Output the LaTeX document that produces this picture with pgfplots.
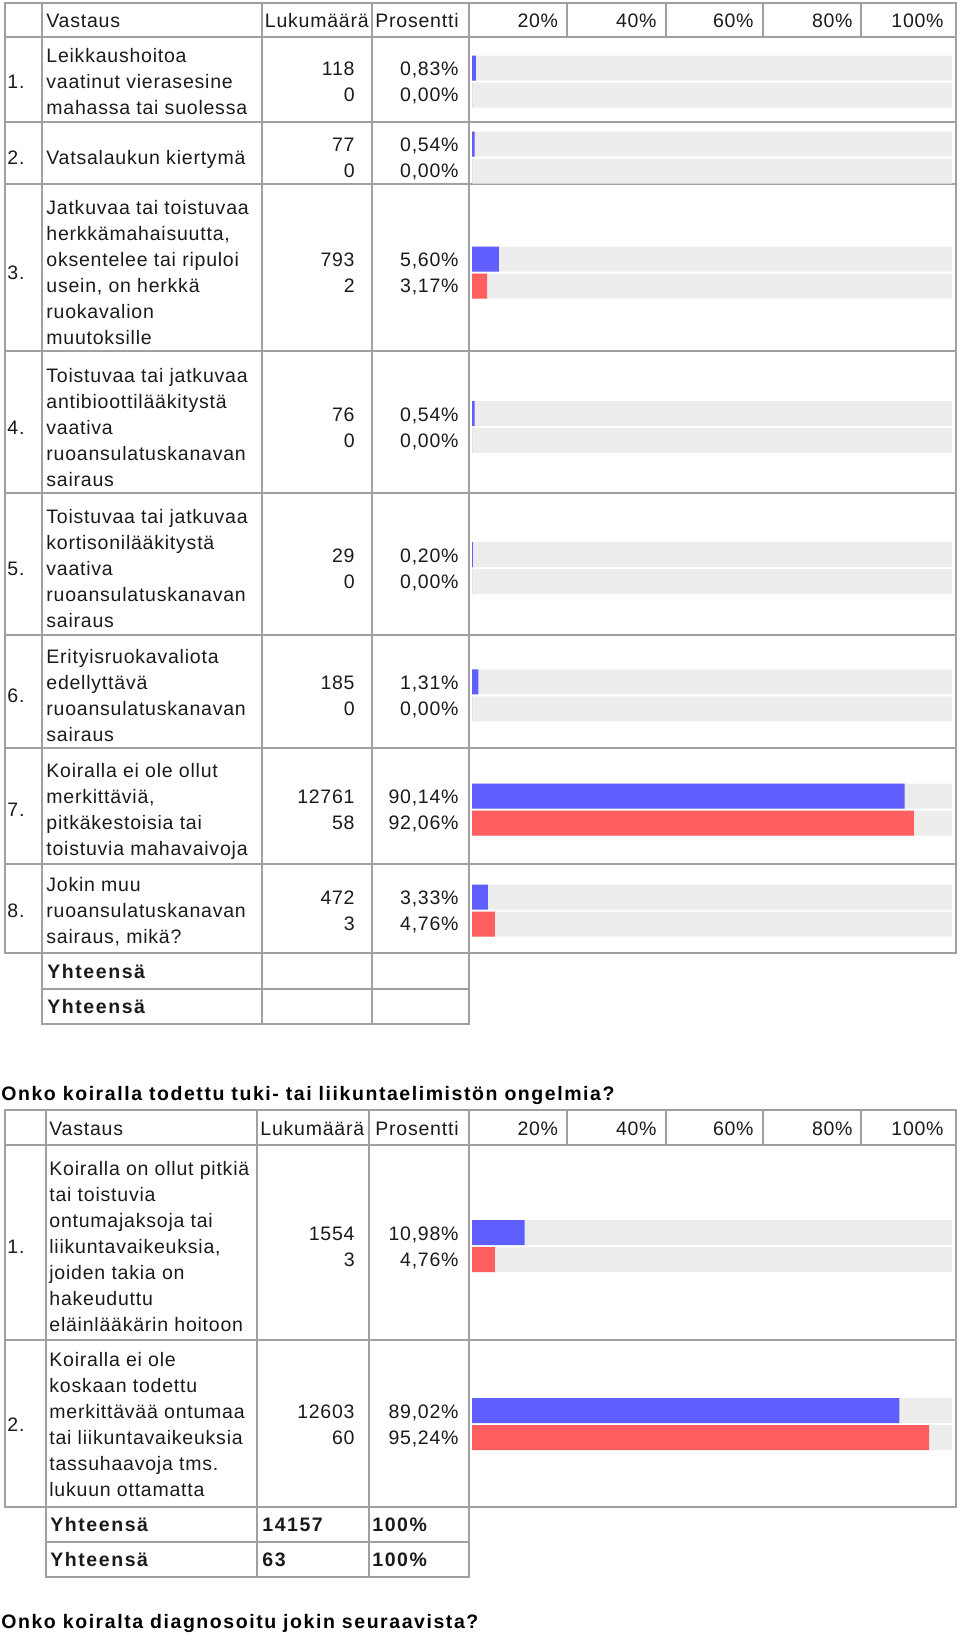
\documentclass[border=0pt]{standalone}
\usepackage{fontspec}
\setmainfont{Liberation Sans}[LetterSpace=4]
\newfontfamily\titlefont{Liberation Sans}[LetterSpace=8]
\usepackage{pgfplots}
\usepackage{pgfplotstable}
\pgfplotsset{compat=1.18}

\definecolor{barblue}{HTML}{5F5FFF}
\definecolor{barred}{HTML}{FF5F5F}
\definecolor{bargray}{HTML}{EDEDED}
\definecolor{rulec}{HTML}{A0A0A0}
\definecolor{txt}{HTML}{1A1A1A}

% first question: bar centre (px from top) and share in percent
\pgfplotstableread{
ypos pct bg
68.2 0.83 100
144.2 0.54 100
259.0 5.60 100
413.5 0.54 100
554.5 0.20 100
681.8 1.31 100
796.0 90.14 100
897.0 3.33 100
}\tabAblue
\pgfplotstableread{
ypos pct bg
95.2 0.00 100
171.2 0.00 100
286.0 3.17 100
440.5 0.00 100
581.5 0.00 100
708.8 0.00 100
823.0 92.06 100
924.0 4.76 100
}\tabAred
% second question
\pgfplotstableread{
ypos pct bg
1232.5 10.98 100
1410.5 89.02 100
}\tabBblue
\pgfplotstableread{
ypos pct bg
1259.5 4.76 100
1437.5 95.24 100
}\tabBred

\newcommand{\nf}{\fontsize{9.75pt}{13pt}\selectfont}
\newcommand{\bff}{\titlefont\bfseries\fontsize{9.75pt}{13pt}\selectfont}
% x, centre, number of lines, lines
\newcommand{\txtrows}[4]{%
  \foreach \t [count=\i] in {#4} {
    \node[anchor=base west, inner sep=0, font=\nf, text=txt]
      at ({#1}, {#2 + 7 + (\i - 1 - (#3 - 1)/2)*26}) {\t};
  }}
% centre, count1, pct1, count2, pct2
\newcommand{\vals}[5]{%
  \node[anchor=base east, inner sep=0, font=\nf, text=txt] at (355, {#1 - 13 + 7}) {#2};
  \node[anchor=base east, inner sep=0, font=\nf, text=txt] at (459, {#1 - 13 + 7}) {#3};
  \node[anchor=base east, inner sep=0, font=\nf, text=txt] at (355, {#1 + 13 + 7}) {#4};
  \node[anchor=base east, inner sep=0, font=\nf, text=txt] at (459, {#1 + 13 + 7}) {#5};
}
\newcommand{\num}[2]{\node[anchor=base west, inner sep=0, font=\nf, text=txt] at (7, {#1 + 7}) {#2};}
% header row at centre y
\newcommand{\header}[3]{%
  \node[anchor=base west, inner sep=0, font=\nf, text=txt] at (#2, {#1 + 7}) {Vastaus};
  \node[anchor=base west, inner sep=0, font=\nf, text=txt] at (#3, {#1 + 7}) {Lukumäärä};
  \node[anchor=base east, inner sep=0, font=\nf, text=txt] at (459, {#1 + 7}) {Prosentti};
  \foreach \xx/\ll in {558.5/20, 657/40, 754/60, 853/80, 944/100}
    \node[anchor=base east, inner sep=0, font=\nf, text=txt] at (\xx, {#1 + 7}) {\ll\%};
}
\pgfplotsset{
  barpanel/.style={
    anchor=north west, scale only axis, width=240pt,
    xmin=0, xmax=100, y dir=reverse,
    hide axis, clip=false,
  },
  bg/.style={xbar, bar shift=0pt, bar width=12.5pt, fill=bargray, draw=none},
  fg/.style={xbar, bar shift=0pt, bar width=12.5pt, fill=#1, draw=none},
}

\begin{document}
\begin{tikzpicture}
\begin{scope}[x=0.5pt, y=-0.5pt]
\useasboundingbox (0,0) rectangle (960,1633);

% ---------- table 1 grid
\begin{scope}[draw=rulec, line width=1pt]
\draw (5,3) rectangle (956,952.5);
\foreach \xx in {42, 262, 372, 469} \draw (\xx,3) -- (\xx,952.5);
\foreach \xx in {567, 666, 763, 861} \draw (\xx,3) -- (\xx,37);
\foreach \yy in {37, 122, 184, 351, 492.5, 635, 747.6, 864} \draw (5,\yy) -- (956,\yy);
\draw (42,952.5) rectangle (469,1023.5);
\draw (42,989) -- (469,989);
\foreach \xx in {262, 372} \draw (\xx,952.5) -- (\xx,1023.5);
\end{scope}

\header{20}{46}{264.5}

\num{81.7}{1.}
\txtrows{46}{81.7}{3}{Leikkaushoitoa, vaatinut vierasesine, mahassa tai suolessa}
\vals{81.7}{118}{0,83\%}{0}{0,00\%}

\num{157.7}{2.}
\txtrows{46}{157.7}{1}{Vatsalaukun kiertymä}
\vals{157.7}{77}{0,54\%}{0}{0,00\%}

\num{272}{3.}
\txtrows{46}{272}{6}{Jatkuvaa tai toistuvaa, {herkkämahaisuutta,}, oksentelee tai ripuloi, {usein, on herkkä}, ruokavalion, muutoksille}
\vals{272}{793}{5,60\%}{2}{3,17\%}

\num{427}{4.}
\txtrows{46}{427}{5}{Toistuvaa tai jatkuvaa, antibioottilääkitystä, vaativa, ruoansulatuskanavan, sairaus}
\vals{427}{76}{0,54\%}{0}{0,00\%}

\num{568}{5.}
\txtrows{46}{568}{5}{Toistuvaa tai jatkuvaa, kortisonilääkitystä, vaativa, ruoansulatuskanavan, sairaus}
\vals{568}{29}{0,20\%}{0}{0,00\%}

\num{695.3}{6.}
\txtrows{46}{695.3}{4}{Erityisruokavaliota, edellyttävä, ruoansulatuskanavan, sairaus}
\vals{695.3}{185}{1,31\%}{0}{0,00\%}

\num{809.5}{7.}
\txtrows{46}{809.5}{4}{Koiralla ei ole ollut, {merkittäviä,}, pitkäkestoisia tai, toistuvia mahavaivoja}
\vals{809.5}{12761}{90,14\%}{58}{92,06\%}

\num{910.5}{8.}
\txtrows{46}{910.5}{3}{Jokin muu, ruoansulatuskanavan, {sairaus, mikä?}}
\vals{910.5}{472}{3,33\%}{3}{4,76\%}

\node[anchor=base west, inner sep=0, font=\bff, text=txt] at (47, 978) {Yhteensä};
\node[anchor=base west, inner sep=0, font=\bff, text=txt] at (47, 1013) {Yhteensä};

% ---------- question title
\node[anchor=base west, inner sep=0, font=\bff, text=black] at (1, 1100) {Onko koiralla todettu tuki- tai liikuntaelimistön ongelmia?};

% ---------- table 2 grid
\begin{scope}[draw=rulec, line width=1pt]
\draw (5,1110) rectangle (956,1506.6);
\foreach \xx in {46, 257, 369, 469} \draw (\xx,1110) -- (\xx,1506.6);
\foreach \xx in {567, 666, 763, 861} \draw (\xx,1110) -- (\xx,1145);
\foreach \yy in {1145, 1340} \draw (5,\yy) -- (956,\yy);
\draw (46,1506.6) rectangle (469,1577.4);
\draw (46,1542) -- (469,1542);
\foreach \xx in {257, 369} \draw (\xx,1506.6) -- (\xx,1577.4);
\end{scope}

\header{1128}{49}{260}

\num{1246}{1.}
\txtrows{49}{1246}{7}{Koiralla on ollut pitkiä, tai toistuvia, ontumajaksoja tai, {liikuntavaikeuksia,}, joiden takia on, hakeuduttu, eläinlääkärin hoitoon}
\vals{1246}{1554}{10,98\%}{3}{4,76\%}

\num{1424}{2.}
\txtrows{49}{1424}{6}{Koiralla ei ole, koskaan todettu, merkittävää ontumaa, tai liikuntavaikeuksia, tassuhaavoja tms., lukuun ottamatta}
\vals{1424}{12603}{89,02\%}{60}{95,24\%}

\node[anchor=base west, inner sep=0, font=\bff, text=txt] at (50, 1531) {Yhteensä};
\node[anchor=base west, inner sep=0, font=\bff, text=txt] at (262, 1531) {14157};
\node[anchor=base west, inner sep=0, font=\bff, text=txt] at (372, 1531) {100\%};
\node[anchor=base west, inner sep=0, font=\bff, text=txt] at (50, 1566.5) {Yhteensä};
\node[anchor=base west, inner sep=0, font=\bff, text=txt] at (262, 1566.5) {63};
\node[anchor=base west, inner sep=0, font=\bff, text=txt] at (372, 1566.5) {100\%};

\node[anchor=base west, inner sep=0, font=\bff, text=black] at (1, 1628) {Onko koiralta diagnosoitu jokin seuraavista?};
\end{scope}

% ---------- bar panels (1 px = 0.5pt, y measured downward)
\begin{axis}[barpanel, at={(236pt,-19.25pt)}, height=457pt, ymin=38.5, ymax=952.5]
  \addplot[bg] table[x=bg, y=ypos] {\tabAblue};
  \addplot[bg] table[x=bg, y=ypos] {\tabAred};
  \addplot[fg=barblue] table[x=pct, y=ypos] {\tabAblue};
  \addplot[fg=barred] table[x=pct, y=ypos] {\tabAred};
\end{axis}

\begin{axis}[barpanel, at={(236pt,-572.5pt)}, height=180.8pt, ymin=1145, ymax=1506.6]
  \addplot[bg] table[x=bg, y=ypos] {\tabBblue};
  \addplot[bg] table[x=bg, y=ypos] {\tabBred};
  \addplot[fg=barblue] table[x=pct, y=ypos] {\tabBblue};
  \addplot[fg=barred] table[x=pct, y=ypos] {\tabBred};
\end{axis}
\end{tikzpicture}
\end{document}
